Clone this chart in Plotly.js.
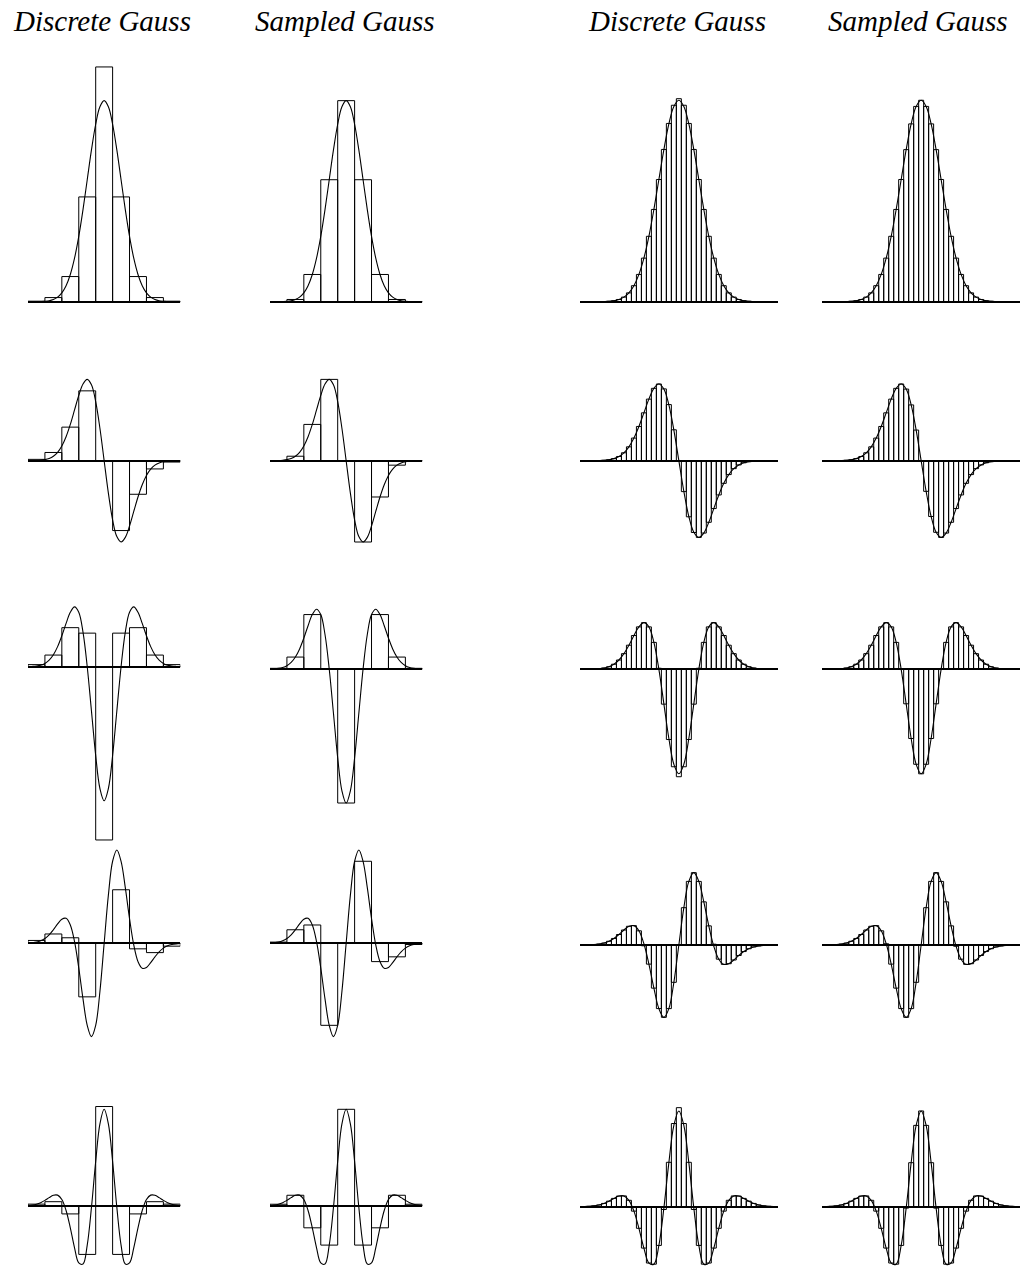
<!DOCTYPE html>
<html>
<head>
<meta charset="utf-8">
<script src="https://cdn.plot.ly/plotly-3.0.1.min.js"></script>
<style>body{margin:0;background:#fff}</style>
</head>
<body>
<div id="gauss" style="width:1020px;height:1268px"></div>
<script>
// sample positions, in units of sigma
var xFine = [-4.75, -4.5, -4.25, -4, -3.75, -3.5, -3.25, -3, -2.75, -2.5, -2.25, -2, -1.75, -1.5, -1.25, -1, -0.75, -0.5, -0.25,
  0, 0.25, 0.5, 0.75, 1, 1.25, 1.5, 1.75, 2, 2.25, 2.5, 2.75, 3, 3.25, 3.5, 3.75, 4, 4.25, 4.5, 4.75];
var xCoarse = [-4, -3, -2, -1, 0, 1, 2, 3, 4];

// continuous Gaussian and its derivatives (order 0..4) read at xFine
var curve0 = [0.0000, 0.0000, 0.0000, 0.0001, 0.0004, 0.0009, 0.0020, 0.0044, 0.0091, 0.0175, 0.0317, 0.0540, 0.0863, 0.1295, 0.1827, 0.2420, 0.3011, 0.3521, 0.3867,
  0.3989, 0.3867, 0.3521, 0.3011, 0.2420, 0.1827, 0.1295, 0.0863, 0.0540, 0.0317, 0.0175, 0.0091, 0.0044, 0.0020, 0.0009, 0.0004, 0.0001, 0.0000, 0.0000, 0.0000];
var curve1 = [0.0000, 0.0001, 0.0002, 0.0005, 0.0013, 0.0031, 0.0066, 0.0133, 0.0250, 0.0438, 0.0714, 0.1080, 0.1510, 0.1943, 0.2283, 0.2420, 0.2259, 0.1760, 0.0967,
  0, -0.0967, -0.1760, -0.2259, -0.2420, -0.2283, -0.1943, -0.1510, -0.1080, -0.0714, -0.0438, -0.0250, -0.0133, -0.0066, -0.0031, -0.0013, -0.0005, -0.0002, -0.0001, 0.0000];
var curve2 = [0.0001, 0.0003, 0.0008, 0.0020, 0.0046, 0.0098, 0.0194, 0.0355, 0.0597, 0.0920, 0.1289, 0.1620, 0.1780, 0.1619, 0.1027, 0.0000, -0.1317, -0.2641, -0.3625,
  -0.3989, -0.3625, -0.2641, -0.1317, 0.0000, 0.1027, 0.1619, 0.1780, 0.1620, 0.1289, 0.0920, 0.0597, 0.0355, 0.0194, 0.0098, 0.0046, 0.0020, 0.0008, 0.0003, 0.0001];
var curve3 = [0.0005, 0.0012, 0.0031, 0.0070, 0.0146, 0.0283, 0.0499, 0.0798, 0.1141, 0.1424, 0.1473, 0.1080, 0.0094, -0.1457, -0.3282, -0.4839, -0.5505, -0.4841, -0.2840,
  0, 0.2840, 0.4841, 0.5505, 0.4839, 0.3282, 0.1457, -0.0094, -0.1080, -0.1473, -0.1424, -0.1141, -0.0798, -0.0499, -0.0283, -0.0146, -0.0070, -0.0031, -0.0012, -0.0005];
var curve4 = [0.0019, 0.0047, 0.0105, 0.0218, 0.0410, 0.0694, 0.1039, 0.1330, 0.1347, 0.0800, -0.0554, -0.2700, -0.5173, -0.7043, -0.7185, -0.4839, -0.0176, 0.5501, 1.0165,
  1.1968, 1.0165, 0.5501, -0.0176, -0.4839, -0.7185, -0.7043, -0.5173, -0.2700, -0.0554, 0.0800, 0.1347, 0.1330, 0.1039, 0.0694, 0.0410, 0.0218, 0.0105, 0.0047, 0.0019];

// discrete Gauss kernels, sigma = 1 sample
var discSmall0 = [0.0010, 0.0082, 0.0499, 0.2079, 0.4658, 0.2079, 0.0499, 0.0082, 0.0010];
var discSmall1 = [0.0040, 0.0245, 0.0999, 0.2079, 0, -0.2079, -0.0999, -0.0245, -0.0040];
var discSmall2 = [0.0062, 0.0346, 0.1162, 0.0999, -0.5157, 0.0999, 0.1162, 0.0346, 0.0062];
var discSmall3 = [0.0169, 0.0550, 0.0326, -0.3159, 0, 0.3159, -0.0326, -0.0550, -0.0169];
var discSmall4 = [0.0230, 0.0532, -0.0979, -0.5993, 1.2312, -0.5993, -0.0979, 0.0532, 0.0230];

// sampled Gauss kernels, sigma = 1 sample
var sampSmall0 = [0.0001, 0.0044, 0.0540, 0.2420, 0.3989, 0.2420, 0.0540, 0.0044, 0.0001];
var sampSmall1 = [0.0005, 0.0133, 0.1080, 0.2420, 0, -0.2420, -0.1080, -0.0133, -0.0005];
var sampSmall2 = [0.0020, 0.0355, 0.1620, 0, -0.3989, 0, 0.1620, 0.0355, 0.0020];
var sampSmall3 = [0.0070, 0.0798, 0.1080, -0.4839, 0, 0.4839, -0.1080, -0.0798, -0.0070];
var sampSmall4 = [0.0218, 0.1330, -0.2700, -0.4839, 1.1968, -0.4839, -0.2700, 0.1330, 0.0218];

// discrete Gauss kernels, sigma = 4 samples
var discLarge0 = [0.0000, 0.0000, 0.0000, 0.0001, 0.0004, 0.0009, 0.0020, 0.0044, 0.0091, 0.0175, 0.0317, 0.0540, 0.0863, 0.1295, 0.1827, 0.2420, 0.3015, 0.3530, 0.3890,
  0.4020, 0.3890, 0.3530, 0.3015, 0.2420, 0.1827, 0.1295, 0.0863, 0.0540, 0.0317, 0.0175, 0.0091, 0.0044, 0.0020, 0.0009, 0.0004, 0.0001, 0.0000, 0.0000, 0.0000];
var discLarge1 = [0.0000, 0.0001, 0.0002, 0.0005, 0.0013, 0.0031, 0.0066, 0.0133, 0.0250, 0.0438, 0.0714, 0.1080, 0.1510, 0.1943, 0.2283, 0.2420, 0.2265, 0.1770, 0.0975,
  0, -0.0975, -0.1770, -0.2265, -0.2420, -0.2283, -0.1943, -0.1510, -0.1080, -0.0714, -0.0438, -0.0250, -0.0133, -0.0066, -0.0031, -0.0013, -0.0005, -0.0002, -0.0001, 0.0000];
var discLarge2 = [0.0001, 0.0003, 0.0008, 0.0020, 0.0046, 0.0098, 0.0194, 0.0355, 0.0597, 0.0920, 0.1289, 0.1620, 0.1780, 0.1619, 0.1027, 0.0040, -0.1330, -0.2680, -0.3720,
  -0.4100, -0.3720, -0.2680, -0.1330, 0.0040, 0.1027, 0.1619, 0.1780, 0.1620, 0.1289, 0.0920, 0.0597, 0.0355, 0.0194, 0.0098, 0.0046, 0.0020, 0.0008, 0.0003, 0.0001];
var discLarge3 = [0.0005, 0.0012, 0.0031, 0.0070, 0.0146, 0.0283, 0.0499, 0.0798, 0.1141, 0.1424, 0.1473, 0.1080, -0.0060, -0.1457, -0.3282, -0.4839, -0.5505, -0.4841, -0.2840,
  0, 0.2840, 0.4841, 0.5505, 0.4839, 0.3282, 0.1457, 0.0060, -0.1080, -0.1473, -0.1424, -0.1141, -0.0798, -0.0499, -0.0283, -0.0146, -0.0070, -0.0031, -0.0012, -0.0005];
var discLarge4 = [0.0019, 0.0047, 0.0105, 0.0218, 0.0410, 0.0694, 0.1039, 0.1330, 0.1347, 0.0800, -0.0554, -0.2700, -0.5173, -0.7043, -0.7185, -0.4839, -0.0350, 0.5550, 1.0400,
  1.2380, 1.0400, 0.5550, -0.0350, -0.4839, -0.7185, -0.7043, -0.5173, -0.2700, -0.0554, 0.0800, 0.1347, 0.1330, 0.1039, 0.0694, 0.0410, 0.0218, 0.0105, 0.0047, 0.0019];

var curves = [curve0, curve1, curve2, curve3, curve4];
var discSmall = [discSmall0, discSmall1, discSmall2, discSmall3, discSmall4];
var sampSmall = [sampSmall0, sampSmall1, sampSmall2, sampSmall3, sampSmall4];
var discLarge = [discLarge0, discLarge1, discLarge2, discLarge3, discLarge4];

var titles = ['Discrete Gauss', 'Sampled Gauss', 'Discrete Gauss', 'Sampled Gauss'];

// page geometry (pixels)
var W = 1020, H = 1268;
var colPx = [[28, 180.3], [270, 422.3], [580, 777.7], [822.3, 1020]];
var titleX = [102, 345, 677, 918];
var bandPx = [[45, 340], [340, 575], [575, 845], [845, 1070], [1070, 1268]];
var basePx = [
  [301.7, 301.7, 301.7, 301.7],
  [460.7, 460.7, 460.7, 460.7],
  [666.7, 669, 669.3, 669.3],
  [943.3, 943.3, 945, 945],
  [1206, 1206, 1206.7, 1206.7]
];
var pxPerUnit = [
  [504, 504, 505, 505],
  [336, 336, 317, 317],
  [336, 336, 262, 262],
  [169.5, 169.5, 131.4, 131.4],
  [80.8, 80.8, 80, 80]
];

var data = [];
var layout = {
  width: W, height: H,
  margin: {l: 0, r: 0, t: 0, b: 0},
  paper_bgcolor: 'white',
  plot_bgcolor: 'rgba(0,0,0,0)',
  showlegend: false,
  annotations: []
};

for (var r = 0; r < 5; r++) {
  for (var c = 0; c < 4; c++) {
    var k = r * 4 + c + 1;
    var xa = k === 1 ? 'x' : 'x' + k;
    var ya = k === 1 ? 'y' : 'y' + k;
    var small = c < 2;
    var barX = small ? xCoarse : xFine;
    var barY = c === 0 ? discSmall[r] : c === 1 ? sampSmall[r] : c === 2 ? discLarge[r] : curves[r];

    data.push({
      type: 'bar', x: barX, y: barY, width: small ? 1 : 0.25,
      xaxis: xa, yaxis: ya,
      marker: {color: 'rgba(0,0,0,0)', line: {color: '#000', width: 1}},
      hoverinfo: 'skip'
    });
    data.push({
      type: 'scatter', mode: 'lines', x: xFine, y: curves[r],
      xaxis: xa, yaxis: ya,
      line: {color: '#000', width: 1.1, shape: 'spline', smoothing: 1},
      hoverinfo: 'skip'
    });

    var bandTop = bandPx[r][0], bandBot = bandPx[r][1];
    var yBase = basePx[r][c], pxU = pxPerUnit[r][c];
    var xr = small ? [-4.5, 4.5] : [-4.95, 4.95];

    layout[k === 1 ? 'xaxis' : 'xaxis' + k] = {
      domain: [colPx[c][0] / W, colPx[c][1] / W],
      range: xr, autorange: false, anchor: ya,
      showgrid: false, zeroline: false, showline: false,
      showticklabels: false, ticks: '', fixedrange: true
    };
    layout[k === 1 ? 'yaxis' : 'yaxis' + k] = {
      domain: [1 - bandBot / H, 1 - bandTop / H],
      range: [-(bandBot - yBase) / pxU, (yBase - bandTop) / pxU], autorange: false, anchor: xa,
      showgrid: false, showline: false,
      zeroline: true, zerolinecolor: '#000', zerolinewidth: 2,
      showticklabels: false, ticks: '', fixedrange: true
    };
  }
}

for (var c = 0; c < 4; c++) {
  layout.annotations.push({
    text: '<i>' + titles[c] + '</i>',
    xref: 'paper', yref: 'paper',
    x: titleX[c] / W, y: 1 - 21 / H,
    xanchor: 'center', yanchor: 'middle',
    showarrow: false,
    font: {family: 'Liberation Serif, serif', size: 29, color: '#000'}
  });
}

Plotly.newPlot('gauss', data, layout, {staticPlot: true});
</script>
</body>
</html>
